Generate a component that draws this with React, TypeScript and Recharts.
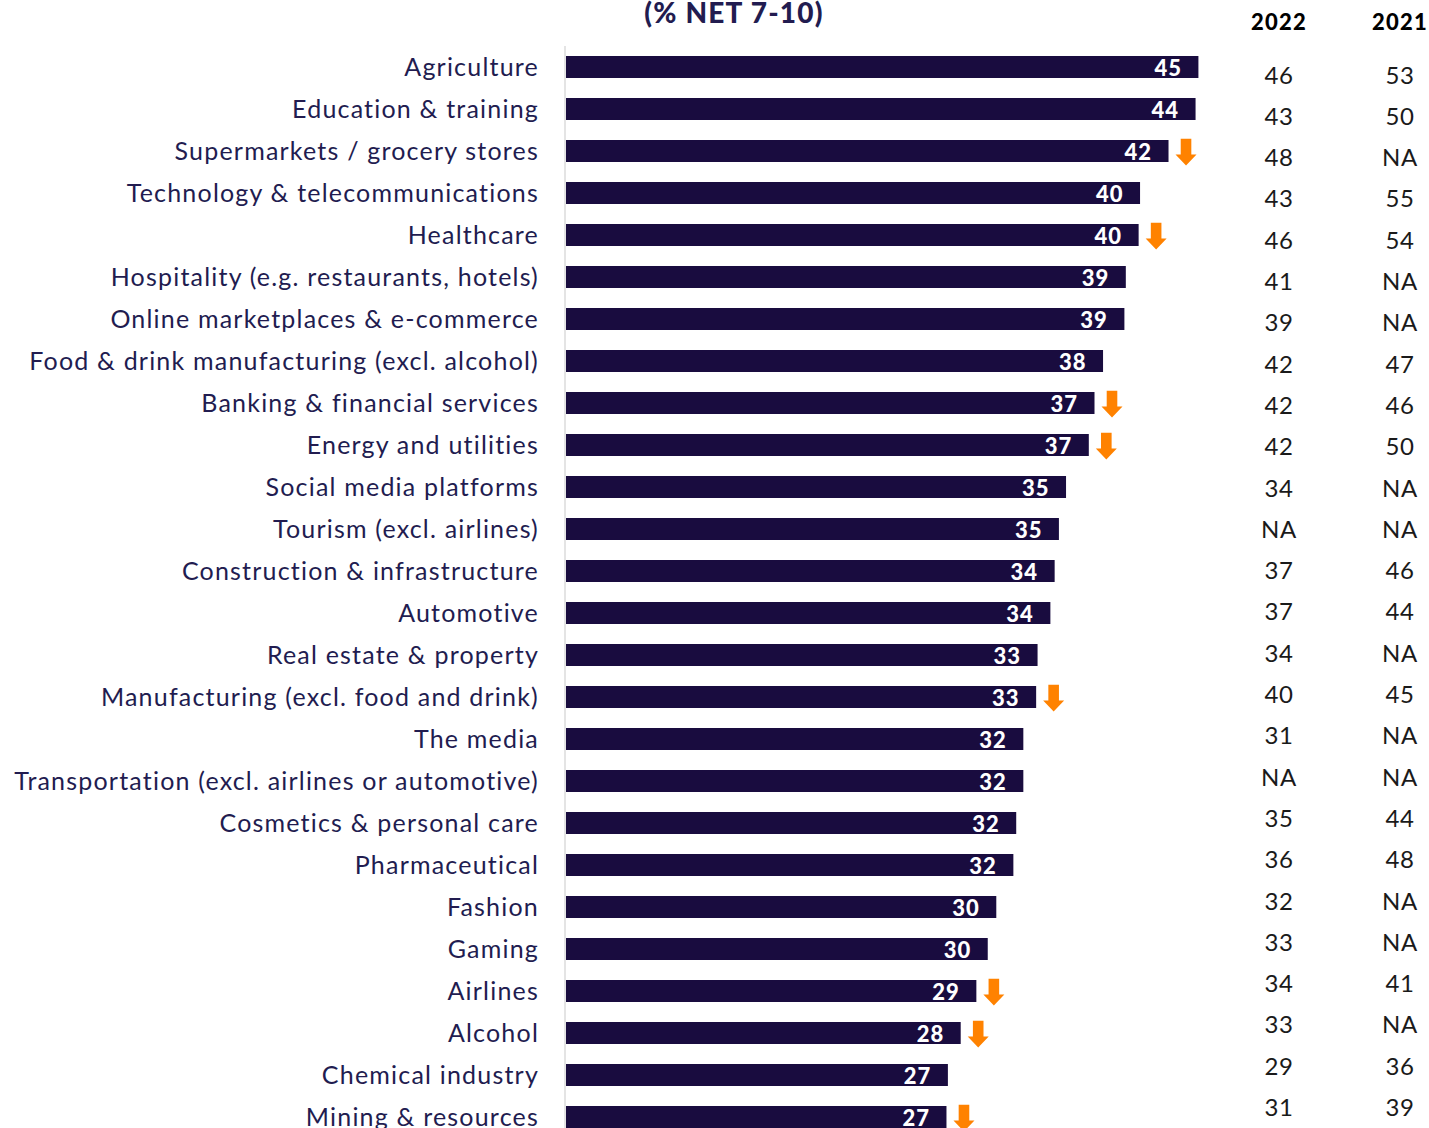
import { Bar, BarChart, LabelList, XAxis, YAxis } from "recharts";

const categories = [
  "Agriculture",
  "Education & training",
  "Supermarkets / grocery stores",
  "Technology & telecommunications",
  "Healthcare",
  "Hospitality (e.g. restaurants, hotels)",
  "Online marketplaces & e-commerce",
  "Food & drink manufacturing (excl. alcohol)",
  "Banking & financial services",
  "Energy and utilities",
  "Social media platforms",
  "Tourism (excl. airlines)",
  "Construction & infrastructure",
  "Automotive",
  "Real estate & property",
  "Manufacturing (excl. food and drink)",
  "The media",
  "Transportation (excl. airlines or automotive)",
  "Cosmetics & personal care",
  "Pharmaceutical",
  "Fashion",
  "Gaming",
  "Airlines",
  "Alcohol",
  "Chemical industry",
  "Mining & resources",
];

// bar lengths (unrounded)
const scores = [
  44.5, 44.3, 42.4, 40.4, 40.3, 39.4, 39.3, 37.8, 37.2, 36.8, 35.2, 34.7, 34.4,
  34.1, 33.2, 33.1, 32.2, 32.2, 31.7, 31.5, 30.3, 29.7, 28.9, 27.8, 26.9, 26.8,
];

// printed labels on the bars
const shown = [
  45, 44, 42, 40, 40, 39, 39, 38, 37, 37, 35, 35, 34, 34, 33, 33, 32, 32, 32, 32,
  30, 30, 29, 28, 27, 27,
];

// significant fall vs 2022
const falls = [
  false, false, true, false, true, false, false, false, true, true, false, false, false,
  false, false, true, false, false, false, false, false, false, true, true, false, true,
];

const year2022 = [
  "46", "43", "48", "43", "46", "41", "39", "42", "42", "42", "34", "NA", "37", "37",
  "34", "40", "31", "NA", "35", "36", "32", "33", "34", "33", "29", "31",
];

const year2021 = [
  "53", "50", "NA", "55", "54", "NA", "NA", "47", "46", "50", "NA", "NA", "46", "44",
  "NA", "45", "NA", "NA", "44", "48", "NA", "NA", "41", "NA", "36", "39",
];

const NAVY = "#190c3f";
const LABEL = "#221c50";
const ORANGE = "#ff8200";
const FONT = "Lato, 'Open Sans', sans-serif";

const data = categories.map((name, i) => ({
  name,
  score: scores[i],
  shown: shown[i],
  fall: falls[i],
}));

function ValueLabel(props: any) {
  const { x, y, width, height, value } = props;
  return (
    <text
      x={x + width - 16.5}
      y={y + height / 2 + 8.5}
      textAnchor="end"
      fill="#fff"
      fontFamily={FONT}
      fontWeight={900}
      fontSize={22}
      letterSpacing={1}
    >
      {value}
    </text>
  );
}

function FallArrow(props: any) {
  const { x, y, width, height, value } = props;
  if (!value) return null;
  const left = x + width + 7;
  const cx = left + 10.5;
  const cy = y + height / 2;
  const pts = [
    [cx - 5.3, cy - 12.3],
    [cx + 5.3, cy - 12.3],
    [cx + 5.3, cy + 3.5],
    [cx + 10.5, cy + 3.5],
    [cx, cy + 14.5],
    [cx - 10.5, cy + 3.5],
    [cx - 5.3, cy + 3.5],
  ]
    .map((p) => p.join(","))
    .join(" ");
  return <polygon points={pts} fill={ORANGE} />;
}

function TableTick(props: any) {
  const { x, y, index } = props;
  return (
    <g fontFamily={FONT} fontSize={24} fill="#1a1a1a" letterSpacing={0.6}>
      <text x={x + 2.3} y={y} dy="0.355em" textAnchor="middle">
        {year2022[index]}
      </text>
      <text x={x + 123.3} y={y} dy="0.355em" textAnchor="middle">
        {year2021[index]}
      </text>
    </g>
  );
}

const headStyle = {
  position: "absolute" as const,
  width: 100,
  top: 8,
  textAlign: "center" as const,
  fontSize: 22,
  fontWeight: 900,
  color: "#000",
  letterSpacing: 1.2,
};

export default function App() {
  return (
    <div
      style={{
        position: "absolute",
        left: 0,
        top: 0,
        width: 1429,
        height: 1128,
        overflow: "hidden",
        background: "#fff",
        fontFamily: FONT,
      }}
    >
      <div
        style={{
          position: "absolute",
          left: 534,
          width: 400,
          top: -5,
          textAlign: "center",
          fontSize: 28,
          fontWeight: 900,
          letterSpacing: 1.2,
          color: LABEL,
        }}
      >
        (% NET 7-10)
      </div>
      <div style={{ ...headStyle, left: 1229 }}>2022</div>
      <div style={{ ...headStyle, left: 1350 }}>2021</div>
      <BarChart
        width={1429}
        height={1140}
        data={data}
        layout="vertical"
        margin={{ top: 46, right: 0, bottom: 2, left: 0 }}
      >
        <XAxis type="number" domain={[0, 50]} hide />
        <YAxis
          type="category"
          dataKey="name"
          width={565}
          interval={0}
          tickSize={0}
          tickMargin={26}
          axisLine={{ stroke: "#e4e4e4", strokeWidth: 2 }}
          tickLine={false}
          tick={{ fill: LABEL, fontSize: 25, fontFamily: FONT, letterSpacing: 1.2 }}
        />
        <YAxis
          yAxisId="table"
          type="category"
          dataKey="name"
          orientation="right"
          width={152.3}
          interval={0}
          tickSize={0}
          tickMargin={0}
          axisLine={false}
          tickLine={false}
          padding={{ top: 8.35, bottom: 9.85 }}
          tick={<TableTick />}
        />
        <Bar dataKey="score" fill={NAVY} barSize={22} isAnimationActive={false}>
          <LabelList dataKey="shown" content={<ValueLabel />} />
          <LabelList dataKey="fall" content={<FallArrow />} />
        </Bar>
      </BarChart>
    </div>
  );
}
